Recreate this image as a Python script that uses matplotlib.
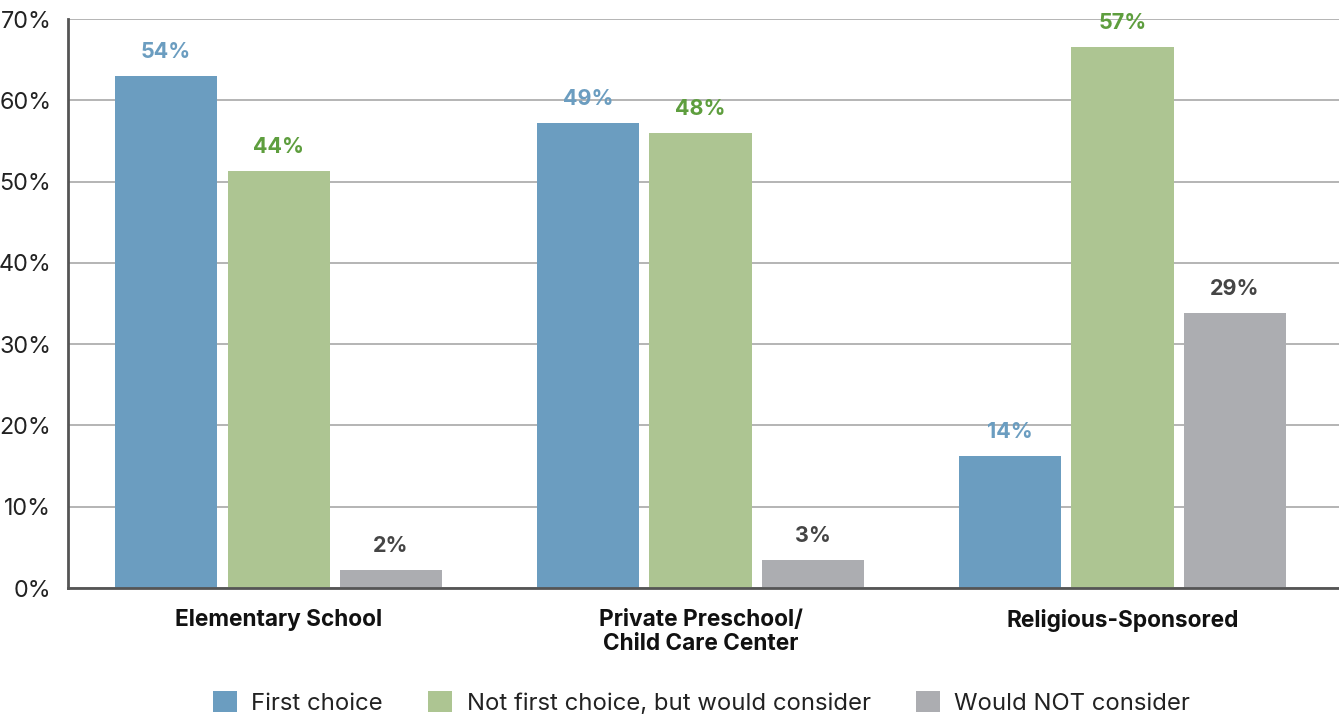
import numpy as np
import matplotlib
matplotlib.use('Agg')
import matplotlib.pyplot as plt
from matplotlib.patches import Patch

plt.rcParams['font.family'] = ['Inter', 'DejaVu Sans']

categories = ['Elementary School', 'Private Preschool/\nChild Care Center', 'Religious-Sponsored']
series = ['First choice', 'Not first choice, but would consider', 'Would NOT consider']
# bar heights as drawn on the axis (%)
first_choice = [63.0, 57.2, 16.2]
would_consider = [51.3, 56.0, 66.5]
not_consider = [2.2, 3.4, 33.8]
# printed value labels
first_labels = ['54%', '49%', '14%']
consider_labels = ['44%', '48%', '57%']
not_labels = ['2%', '3%', '29%']
yticks = [0, 10, 20, 30, 40, 50, 60, 70]

bar_colors = ['#6b9dc0', '#adc592', '#acadb1']
text_colors = ['#6b9dc0', '#5e9e3e', '#454545']

fig = plt.figure(figsize=(13.39, 7.15), dpi=100)
ax = fig.add_axes([0.0508, 0.1776, 0.9492, 0.7958])

x = np.arange(len(categories))
pitch = 0.2666
width = 0.242
data = [first_choice, would_consider, not_consider]
labels = [first_labels, consider_labels, not_labels]

for i, (vals, labs) in enumerate(zip(data, labels)):
    pos = x + (i - 1) * pitch
    ax.bar(pos, vals, width=width, color=bar_colors[i], zorder=3)
    for px, v, lab in zip(pos, vals, labs):
        ax.text(px, v + 1.75, lab, ha='center', va='bottom', fontsize=15.5,
                fontweight='bold', color=text_colors[i], zorder=4)

ax.set_xlim(-0.499, 2.513)
ax.set_ylim(0, 70)
ax.set_yticks(yticks)
ax.set_yticklabels([f'{t}%' for t in yticks], fontsize=16.8, color='#222222')
ax.set_xticks(x)
ax.set_xticklabels(categories, fontsize=16.3, fontweight='bold', color='#111111',
                   linespacing=1.15)
ax.tick_params(axis='both', length=0)
ax.tick_params(axis='x', pad=15)
ax.tick_params(axis='y', pad=12)
ax.yaxis.grid(True, color='#b4b4b4', linewidth=1.4, zorder=0)
ax.set_axisbelow(True)
for s in ['top', 'right']:
    ax.spines[s].set_visible(False)
for s in ['left', 'bottom']:
    ax.spines[s].set_color('#555555')
    ax.spines[s].set_linewidth(2)
    ax.spines[s].set_zorder(5)

handles = [Patch(facecolor=c, edgecolor='none') for c in bar_colors]
fig.legend(handles, series, loc='lower center', ncol=3, frameon=False,
           fontsize=17.2, bbox_to_anchor=(0.524, -0.03), handlelength=1.0,
           handleheight=1.0, handletextpad=0.6, columnspacing=1.9,
           labelcolor='#222222')

fig.savefig('out.png', dpi=100)
